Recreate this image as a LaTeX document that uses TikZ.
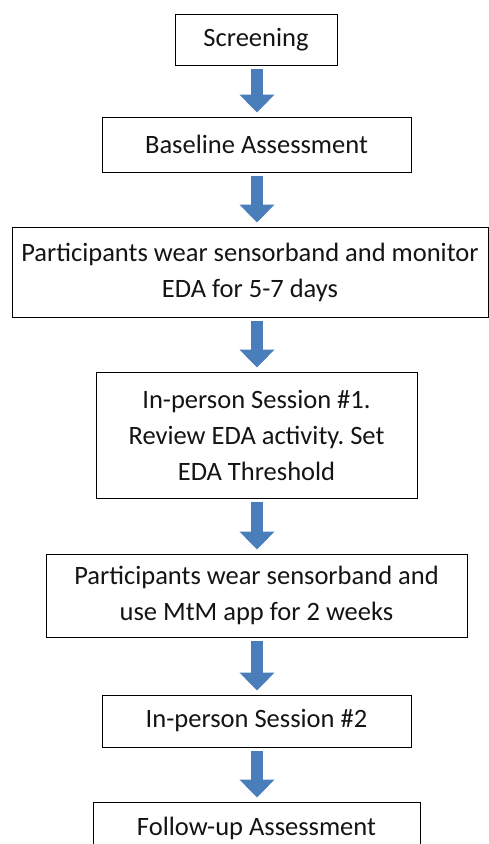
\documentclass[tikz,border=0pt]{standalone}
\usepackage{fontspec}
\setmainfont{Carlito}
\usetikzlibrary{arrows.meta,calc}
\definecolor{arrowblue}{RGB}{74,126,187}
\definecolor{textdark}{RGB}{20,20,20}
\frenchspacing
\begin{document}
\begin{tikzpicture}[x=1pt,y=-1pt,
  box/.style={draw=black, line width=0.9pt, inner sep=0pt, align=center,
    text=textdark, font=\fontsize{26.5}{36}\selectfont},
  blockarrow/.style={draw=arrowblue, line width=12pt,
    -{Triangle[width=34pt,length=18pt]}}]
\useasboundingbox (0,0) rectangle (489,844);
\coordinate (ax) at (257,0);
\node[box, minimum width=162pt, minimum height=51pt] (s1) at (256,39.5) {Screening};
\node[box, minimum width=309pt, minimum height=55pt] (s2) at (256.5,144.5) {Baseline Assessment};
\node[box, minimum width=476pt, minimum height=90pt] (s3) at (250,272) {Participants wear sensorband and monitor\\EDA for 5-7 days};
\node[box, minimum width=321pt, minimum height=126pt] (s4) at (256.5,435) {In-person Session \#1.\\Review EDA activity. Set\\EDA Threshold};
\node[box, minimum width=421pt, minimum height=83pt] (s5) at (256.5,595.5) {Participants wear sensorband and\\use MtM app for 2 weeks};
\node[box, minimum width=309pt, minimum height=52pt] (s6) at (256.5,721) {In-person Session \#2};
\node[box, minimum width=327pt, minimum height=52pt] (s7) at (256.5,828) {Follow-up Assessment};
\foreach \a/\b in {s1/s2,s2/s3,s3/s4,s4/s5,s5/s6,s6/s7}{
  \draw[blockarrow] ($(\a.south -| ax)+(0,-4pt)$) -- ($(\b.north -| ax)+(0,4pt)$);
}
\end{tikzpicture}
\end{document}
